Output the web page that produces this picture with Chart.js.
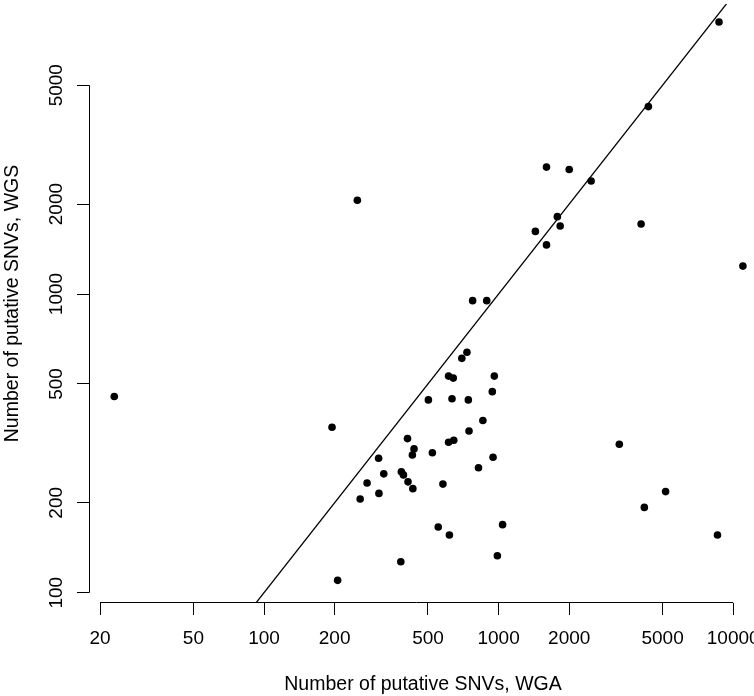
<!DOCTYPE html>
<html>
<head>
<meta charset="utf-8">
<script src="https://cdn.jsdelivr.net/npm/chart.js@4"></script>
<style>
  html, body { margin: 0; padding: 0; background: #fff; overflow: hidden; }
  canvas { display: block; }
</style>
</head>
<body>
<!-- plot region runs a little past the right edge, like the original -->
<canvas id="snvChart" width="761" height="696"></canvas>
<script>
// putative SNV counts per sample: WGA (x) vs WGS (y)
const wga = [8700, 4350, 1600, 2000, 2480, 250, 1780, 1830, 4050, 1435,
    1600, 11000, 775, 890, 23, 733, 697, 612, 641, 959,
    940, 502, 633, 743, 857, 195, 748, 409, 644, 612,
    436, 429, 522, 308, 947, 821, 324, 385, 393, 411,
    275, 579, 431, 309, 257, 5150, 4180, 3270, 1040, 553,
    617, 8570, 988, 383, 206];
const wgs = [8140, 4240, 2660, 2610, 2390, 2060, 1815, 1690, 1715, 1620,
    1460, 1240, 950, 950, 454, 638, 609, 531, 523, 531,
    471, 442, 446, 442, 377, 358, 348, 328, 324, 319,
    303, 289, 294, 282, 284, 262, 250, 254, 248, 235,
    233, 231, 223, 215, 206, 218, 193, 314, 169, 166,
    156, 156, 133, 127, 110];

// y = x reference line
const identity = [10, 100000];

const xTicks = [20, 50, 100, 200, 500, 1000, 2000, 5000, 10000];
const yTicks = [100, 200, 500, 1000, 2000, 5000];

const font = 'Liberation Sans, Arial, Helvetica, sans-serif';

// R-style axis lines, drawn only between the first and last tick
const axisLines = {
    id: 'axisLines',
    afterDraw(chart) {
        const { ctx, chartArea, scales } = chart;
        ctx.save();
        ctx.strokeStyle = '#000';
        ctx.lineWidth = 1;
        ctx.beginPath();
        const yb = Math.round(chartArea.bottom) - 0.5;
        ctx.moveTo(scales.x.getPixelForValue(xTicks[0]), yb);
        ctx.lineTo(scales.x.getPixelForValue(xTicks[xTicks.length - 1]), yb);
        const xl = Math.round(chartArea.left) + 0.5;
        ctx.moveTo(xl, scales.y.getPixelForValue(yTicks[0]));
        ctx.lineTo(xl, scales.y.getPixelForValue(yTicks[yTicks.length - 1]));
        ctx.stroke();
        ctx.restore();
    },
};

const chart = new Chart(document.getElementById('snvChart'), {
    type: 'scatter',
    data: {
        datasets: [{
            data: wga.map((v, i) => ({ x: v, y: wgs[i] })),
            pointRadius: 3.8,
            pointBackgroundColor: '#000',
            pointBorderWidth: 0,
        }, {
            data: identity.map(v => ({ x: v, y: v })),
            showLine: true,
            borderColor: '#000',
            borderWidth: 1.3,
            pointRadius: 0,
        }],
    },
    options: {
        responsive: false,
        animation: false,
        events: [],
        layout: { padding: 0 },
        plugins: { legend: { display: false }, tooltip: { enabled: false } },
        scales: {
            x: {
                type: 'logarithmic',
                min: 17.95,
                max: 13140,
                afterBuildTicks: s => { s.ticks = xTicks.map(v => ({ value: v })); },
                afterFit: s => { s.height = 93; s.paddingLeft = 0; s.paddingRight = 0; },
                grid: { drawOnChartArea: false, drawTicks: true, tickLength: 12, tickColor: '#000', lineWidth: 1 },
                border: { display: false },
                ticks: {
                    autoSkip: false,
                    maxRotation: 0,
                    padding: 12.5,
                    color: '#000',
                    font: { family: font, size: 19 },
                    callback: v => String(v),
                },
                title: {
                    display: true,
                    text: 'Number of putative SNVs, WGA',
                    color: '#000',
                    font: { family: font, size: 19.5 },
                    padding: { top: 0, bottom: 0 },
                },
            },
            y: {
                type: 'logarithmic',
                min: 92.4,
                max: 9643,
                afterBuildTicks: s => { s.ticks = yTicks.map(v => ({ value: v })); },
                afterFit: s => { s.width = 89; s.paddingTop = 0; s.paddingBottom = 0; },
                grid: { drawOnChartArea: false, drawTicks: true, tickLength: 12, tickColor: '#000', lineWidth: 1 },
                border: { display: false },
                ticks: {
                    autoSkip: false,
                    minRotation: 90,
                    maxRotation: 90,
                    crossAlign: 'center',
                    padding: -1,
                    color: '#000',
                    font: { family: font, size: 19 },
                    callback: v => String(v),
                },
                title: {
                    display: true,
                    text: 'Number of putative SNVs, WGS',
                    color: '#000',
                    font: { family: font, size: 19.5 },
                    padding: { top: 1, bottom: 0 },
                },
            },
        },
    },
    plugins: [axisLines],
});

// pin the log ranges to the plot area: 100 sits at x=264 / y=592.7,
// one decade is 234.6 px across and 298.7 px up
const ca = chart.chartArea;
chart.options.scales.x.min = 10 ** (2 - (264 - ca.left) / 234.6);
chart.options.scales.x.max = 10 ** (2 + (ca.right - 264) / 234.6);
chart.options.scales.y.min = 10 ** (2 - (ca.bottom - 592.7) / 298.7);
chart.options.scales.y.max = 10 ** (2 + (592.7 - ca.top) / 298.7);
chart.update();
</script>
</body>
</html>
